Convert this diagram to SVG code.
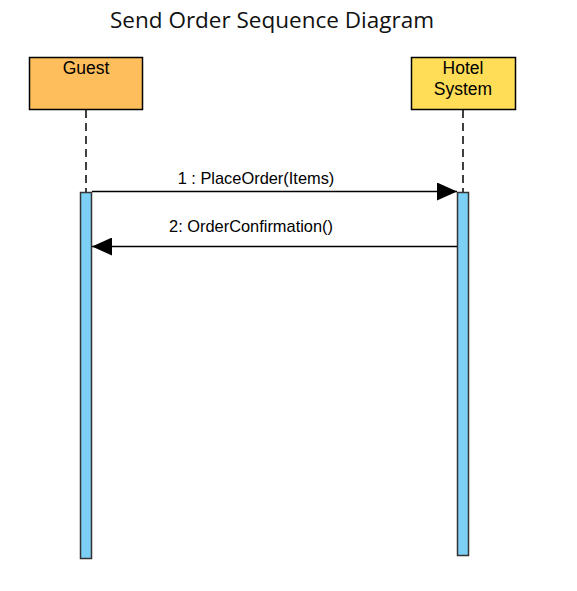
<svg xmlns="http://www.w3.org/2000/svg" width="577" height="591" viewBox="0 0 577 591">
<style>
.box{stroke:#000;stroke-width:1.5}
.lbl{font-family:"Liberation Sans",Arial,sans-serif;font-size:17.5px;fill:#000;text-anchor:middle}
.msg{font-family:"Liberation Sans",Arial,sans-serif;font-size:16.4px;fill:#000;text-anchor:middle}
.life{stroke:#000;stroke-width:1.5;stroke-dasharray:8,5;fill:none}
.act{fill:#7dd0f5;stroke:#333;stroke-width:1.5}
.line{stroke:#000;stroke-width:1.3;fill:none}
</style>
<defs>
<marker id="arr" markerWidth="20" markerHeight="18" refX="20" refY="9" orient="auto" markerUnits="userSpaceOnUse">
<path d="M0,0 L20,9 L0,18 Z" fill="#000"/>
</marker>
</defs>
<rect width="577" height="591" fill="#fff"/>
<text x="272" y="28" font-family="'Open Sans',sans-serif" font-size="22.5" fill="#111" text-anchor="middle">Send Order Sequence Diagram</text>
<g id="guest">
<rect class="box" x="29.5" y="57.5" width="113" height="52" fill="#ffbe5c"/>
<text class="lbl" x="86" y="74">Guest</text>
<line class="life" x1="86" y1="110" x2="86" y2="192"/>
<rect class="act" x="80.5" y="192.5" width="11" height="366"/>
</g>
<g id="hotel">
<rect class="box" x="411.5" y="57.5" width="104" height="52" fill="#ffdd57"/>
<text class="lbl" x="463" y="74">Hotel</text>
<text class="lbl" x="463" y="95">System</text>
<line class="life" x1="463" y1="110" x2="463" y2="192"/>
<rect class="act" x="457.5" y="192.5" width="11" height="363"/>
</g>
<g id="connectors">
<line class="line" x1="92" y1="191.5" x2="457" y2="191.5" marker-end="url(#arr)"/>
<text class="msg" x="256" y="184">1 : PlaceOrder(Items)</text>
<line class="line" x1="457" y1="246.5" x2="92" y2="246.5" marker-end="url(#arr)"/>
<text class="msg" x="251" y="232">2: OrderConfirmation()</text>
</g>
</svg>
